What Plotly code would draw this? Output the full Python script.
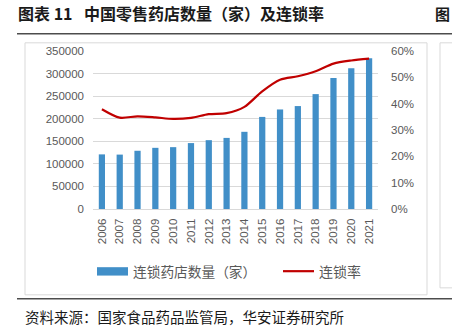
import plotly.graph_objects as go

years = [str(y) for y in range(2006, 2022)]
stores = [121000, 120500, 129000, 135500, 137000, 146000, 152500, 157500, 171000,
          204000, 220500, 228000, 254500, 290000, 312000, 334000]
rate = [0.379, 0.347, 0.352, 0.348, 0.342, 0.346, 0.360, 0.364, 0.388,
        0.447, 0.491, 0.504, 0.523, 0.552, 0.564, 0.571]

W, H = 452, 331
L, R, T, B = 93, 378, 50.7, 209
BLUE = "#418FC8"
RED = "#C00000"
GRID = "#D9D9D9"
TXT = "#595959"
CJK = "Noto Sans CJK SC"
NUM = "Liberation Sans"

def px(x):
    return (x - L) / (R - L)

def py(y):
    return (B - y) / (B - T)

fig = go.Figure()
fig.add_trace(go.Bar(x=years, y=stores, marker=dict(color=BLUE, line=dict(width=0)),
                     name="连锁药店数量（家）", showlegend=False))
fig.add_trace(go.Scatter(x=years, y=rate, yaxis="y2", mode="lines",
                         line=dict(color=RED, width=2.2, shape="spline", smoothing=0.8),
                         name="连锁率", showlegend=False))

shapes = [
    dict(type="line", xref="paper", yref="paper", x0=px(17), x1=px(452), y0=py(33.3), y1=py(33.3),
         line=dict(color="#4D4D4D", width=1.5)),
    dict(type="rect", xref="paper", yref="paper", x0=px(25), x1=px(427), y0=py(42.5), y1=py(295),
         line=dict(color="#D9D9D9", width=1)),
    dict(type="rect", xref="paper", yref="paper", x0=px(440), x1=px(470), y0=py(42.5), y1=py(288),
         line=dict(color="#D9D9D9", width=1)),
    dict(type="line", xref="paper", yref="paper", x0=px(17), x1=px(452), y0=py(299), y1=py(299),
         line=dict(color="#4D4D4D", width=1.5)),
    dict(type="rect", xref="paper", yref="paper", x0=px(97), x1=px(128), y0=py(275.7), y1=py(267.3),
         fillcolor=BLUE, line=dict(width=0)),
    dict(type="line", xref="paper", yref="paper", x0=px(283), x1=px(314), y0=py(271.3), y1=py(271.3),
         line=dict(color=RED, width=2.2)),
]

annotations = [
    dict(text="<b>图表 11</b>", x=px(16), y=py(13), xref="paper", yref="paper",
         xanchor="left", yanchor="middle", showarrow=False,
         font=dict(family=CJK, size=16, color="#1a1a1a")),
    dict(text="<b>中国零售药店数量（家）及连锁率</b>", x=px(81.5), y=py(13), xref="paper", yref="paper",
         xanchor="left", yanchor="middle", showarrow=False,
         font=dict(family=CJK, size=16, color="#1a1a1a")),
    dict(text="<b>图</b>", x=px(451), y=py(13), xref="paper", yref="paper",
         xanchor="right", yanchor="middle", showarrow=False, borderpad=0,
         font=dict(family=CJK, size=15, color="#1a1a1a")),
    dict(text="连锁药店数量（家）", x=px(131), y=py(271.5), xref="paper", yref="paper",
         xanchor="left", yanchor="middle", showarrow=False,
         font=dict(family=CJK, size=13.7, color=TXT)),
    dict(text="连锁率", x=px(317), y=py(271.5), xref="paper", yref="paper",
         xanchor="left", yanchor="middle", showarrow=False,
         font=dict(family=CJK, size=14, color=TXT)),
    dict(text="资料来源：国家食品药品监管局，华安证券研究所", x=px(23), y=py(317), xref="paper", yref="paper",
         xanchor="left", yanchor="middle", showarrow=False,
         font=dict(family=CJK, size=14.5, color="#1a1a1a")),
]

fig.update_layout(
    width=W, height=H,
    margin=dict(l=L, r=W - R, t=T, b=H - B, pad=0),
    paper_bgcolor="white", plot_bgcolor="white",
    bargap=0.65,
    showlegend=False,
    xaxis=dict(type="category", tickangle=-90, showgrid=False, showline=True,
               linecolor=GRID, linewidth=1, ticks="",
               tickfont=dict(family=NUM, size=11.5, color=TXT), ticklabelstandoff=4),
    yaxis=dict(range=[0, 350000], tickvals=list(range(0, 350001, 50000)),
               ticktext=[str(v) for v in range(0, 350001, 50000)],
               showgrid=True, gridcolor=GRID, gridwidth=1, zeroline=False, showline=False,
               tickfont=dict(family=NUM, size=11.5, color=TXT), ticklabelstandoff=8),
    yaxis2=dict(range=[0, 0.6], tickvals=[0, 0.1, 0.2, 0.3, 0.4, 0.5, 0.6],
                tickformat=".0%", overlaying="y", side="right", showgrid=False,
                zeroline=False, showline=False,
                tickfont=dict(family=NUM, size=11.5, color=TXT), ticklabelstandoff=12),
    shapes=shapes,
    annotations=annotations,
)

fig.write_html("out.html")
